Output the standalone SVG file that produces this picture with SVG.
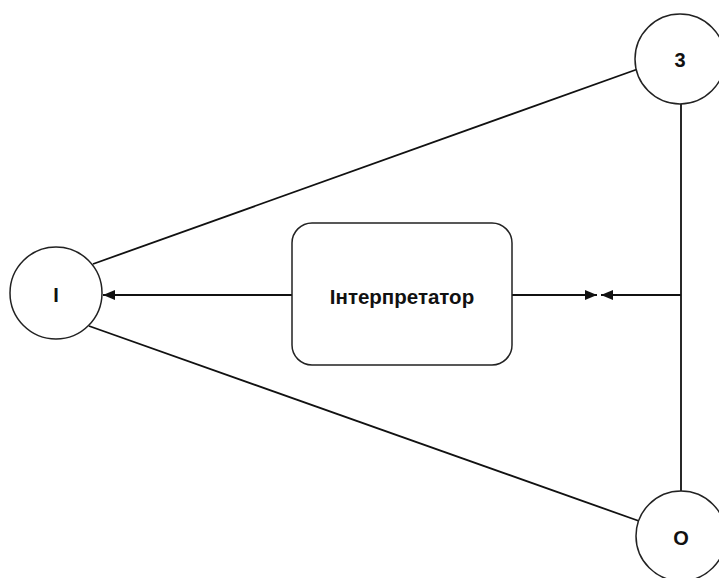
<svg xmlns="http://www.w3.org/2000/svg" width="719" height="578" viewBox="0 0 719 578">
  <defs>
    <marker id="arrow" viewBox="0 0 12 10" refX="12" refY="5" markerWidth="12" markerHeight="10" markerUnits="userSpaceOnUse" orient="auto">
      <path d="M0,0 L12,5 L0,10 z" fill="#111"/>
    </marker>
  </defs>
  <style>
    .node { fill: #fff; stroke: #222; stroke-width: 1.5; }
    .label { font-family: "Liberation Sans", Arial, sans-serif; font-weight: bold; fill: #111; text-anchor: middle; dominant-baseline: central; }
    .link { stroke: #111; stroke-width: 1.8; fill: none; }
  </style>
  <rect width="719" height="578" fill="#fff"/>

  <g id="connectors">
    <line class="link" x1="93" y1="264" x2="638" y2="69"/>
    <line class="link" x1="89" y1="326" x2="639" y2="521"/>
    <line class="link" x1="681" y1="104" x2="681" y2="491"/>
    <line class="link" x1="292" y1="295" x2="103" y2="295" marker-end="url(#arrow)"/>
    <line class="link" x1="512" y1="295" x2="597" y2="295" marker-end="url(#arrow)"/>
    <line class="link" x1="681" y1="295" x2="601" y2="295" marker-end="url(#arrow)"/>
  </g>

  <g id="node-i">
    <circle class="node" cx="56" cy="293" r="46"/>
    <text class="label" x="56" y="295" font-size="20">I</text>
  </g>

  <g id="node-3">
    <circle class="node" cx="680" cy="59" r="45"/>
    <text class="label" x="680" y="60" font-size="20">3</text>
  </g>

  <g id="node-o">
    <circle class="node" cx="681" cy="536" r="45"/>
    <text class="label" x="681" y="538" font-size="20">O</text>
  </g>

  <g id="node-interpreter">
    <rect class="node" x="292" y="223" width="220" height="142" rx="20" ry="20" stroke-width="2"/>
    <text class="label" x="402" y="296" font-size="20.5">Інтерпретатор</text>
  </g>
</svg>
